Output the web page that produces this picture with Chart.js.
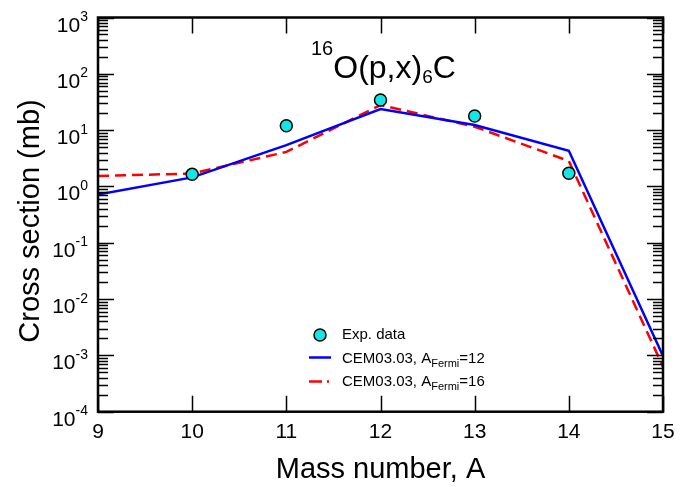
<!DOCTYPE html>
<html>
<head>
<meta charset="utf-8">
<script src="https://cdn.jsdelivr.net/npm/chart.js@4.4.1/dist/chart.umd.min.js"></script>
<style>
  html, body { margin: 0; padding: 0; background: #fff; }
  canvas { display: block; }
</style>
</head>
<body>
<canvas id="chart" width="696" height="487"></canvas>
<script>
// Mass numbers of the product nuclei
const massNumbers = [9, 10, 11, 12, 13, 14, 15];
// CEM03.03 calculations (mb)
const cemFermi12 = [0.72, 1.45, 5.4, 23.7, 12.3, 4.3, 0.98e-3];
const cemFermi16 = [1.53, 1.7, 4.1, 27.9, 11.5, 2.83, 6.3e-4];
// Measured cross sections (mb)
const expMass = [10, 11, 12, 13, 14];
const expValues = [1.64, 12.0, 34.3, 17.8, 1.71];
// Axis ticks
const xTicks = [9, 10, 11, 12, 13, 14, 15];
const yExponents = [-4, -3, -2, -1, 0, 1, 2, 3];

const FONT = '"Liberation Sans", Arial, Helvetica, sans-serif';

const toPoints = (xs, ys) => xs.map((x, i) => ({ x: x, y: ys[i] }));

// Draws the frame, inward ticks, labels, title and legend by hand
const framePlugin = {
    id: 'frame',
    afterDatasetsDraw(chart) {
        const ctx = chart.ctx;
        const { left, right, top, bottom } = chart.chartArea;
        const xs = chart.scales.x;
        const ys = chart.scales.y;

        ctx.save();
        ctx.strokeStyle = '#000';
        ctx.fillStyle = '#000';

        // tick marks
        ctx.lineWidth = 1.5;
        ctx.beginPath();
        xTicks.forEach(v => {
            const px = Math.round(xs.getPixelForValue(v)) + 0.5;
            ctx.moveTo(px, bottom); ctx.lineTo(px, bottom - 16);
            ctx.moveTo(px, top); ctx.lineTo(px, top + 16);
        });
        yExponents.forEach(e => {
            for (let m = 1; m < 10; m++) {
                if (e === 3 && m > 1) break;
                const py = Math.round(ys.getPixelForValue(m * Math.pow(10, e))) + 0.5;
                const len = m === 1 ? 16 : 10;
                ctx.moveTo(left, py); ctx.lineTo(left + len, py);
                ctx.moveTo(right, py); ctx.lineTo(right - len, py);
            }
        });
        ctx.stroke();

        // frame
        ctx.lineWidth = 2.5;
        ctx.strokeRect(left, top, right - left, bottom - top);

        // x tick labels
        ctx.font = '21px ' + FONT;
        ctx.textAlign = 'center';
        ctx.textBaseline = 'alphabetic';
        xTicks.forEach(v => {
            ctx.fillText(String(v), xs.getPixelForValue(v), bottom + 26);
        });

        // y tick labels as powers of ten
        yExponents.forEach(e => {
            const py = ys.getPixelForValue(Math.pow(10, e));
            const expText = e < 0 ? '-' + Math.abs(e) : String(e);
            ctx.font = '14px ' + FONT;
            ctx.textAlign = 'right';
            ctx.fillText(expText, 88, py + 3.5);
            const w = ctx.measureText(expText).width;
            ctx.font = '21px ' + FONT;
            ctx.fillText('10', 88 - w, py + 14);
        });

        // axis titles
        ctx.font = '29px ' + FONT;
        ctx.textAlign = 'center';
        ctx.fillText('Mass number, A', (left + right) / 2, 478);
        ctx.save();
        ctx.translate(39, 221);
        ctx.rotate(-Math.PI / 2);
        ctx.fillText('Cross section (mb)', 0, 0);
        ctx.restore();

        // reaction label
        ctx.textAlign = 'left';
        let tx = 311;
        const ty = 78;
        ctx.font = '20px ' + FONT;
        ctx.fillText('16', tx, ty - 23);
        tx += ctx.measureText('16').width;
        ctx.font = '32px ' + FONT;
        ctx.fillText('O(p,x)', tx, ty);
        tx += ctx.measureText('O(p,x)').width;
        ctx.font = '19px ' + FONT;
        ctx.fillText('6', tx, ty + 5);
        tx += ctx.measureText('6').width;
        ctx.font = '32px ' + FONT;
        ctx.fillText('C', tx, ty);

        // legend
        ctx.beginPath();
        ctx.arc(320, 335, 6, 0, Math.PI * 2);
        ctx.fillStyle = '#14e6e6';
        ctx.fill();
        ctx.lineWidth = 1.5;
        ctx.strokeStyle = '#000';
        ctx.stroke();

        ctx.lineWidth = 2.5;
        ctx.strokeStyle = '#0000ff';
        ctx.beginPath();
        ctx.moveTo(309, 357.5); ctx.lineTo(331, 357.5);
        ctx.stroke();

        ctx.strokeStyle = '#ff0000';
        ctx.setLineDash([13, 5, 2, 5]);
        ctx.beginPath();
        ctx.moveTo(309, 381.5); ctx.lineTo(331, 381.5);
        ctx.stroke();
        ctx.setLineDash([]);

        ctx.fillStyle = '#000';
        const drawEntry = (label, sub, tail, y) => {
            let x = 342;
            ctx.font = '15px ' + FONT;
            ctx.fillText(label, x, y);
            if (!sub) return;
            x += ctx.measureText(label).width;
            ctx.font = '11px ' + FONT;
            ctx.fillText(sub, x, y + 4);
            x += ctx.measureText(sub).width;
            ctx.font = '15px ' + FONT;
            ctx.fillText(tail, x, y);
        };
        drawEntry('Exp. data', null, null, 339);
        drawEntry('CEM03.03, A', 'Fermi', '=12', 362.5);
        drawEntry('CEM03.03, A', 'Fermi', '=16', 386);

        ctx.restore();
    }
};

new Chart(document.getElementById('chart'), {
    type: 'scatter',
    data: {
        datasets: [
            {
                label: 'Exp. data',
                data: toPoints(expMass, expValues),
                showLine: false,
                pointRadius: 6,
                pointBackgroundColor: '#14e6e6',
                pointBorderColor: '#000',
                pointBorderWidth: 1.5,
                order: 0
            },
            {
                label: 'CEM03.03, AFermi=12',
                data: toPoints(massNumbers, cemFermi12),
                showLine: true,
                borderColor: '#0000ff',
                borderWidth: 2.5,
                pointRadius: 0,
                tension: 0,
                order: 1
            },
            {
                label: 'CEM03.03, AFermi=16',
                data: toPoints(massNumbers, cemFermi16),
                showLine: true,
                borderColor: '#ff0000',
                borderWidth: 2.5,
                borderDash: [11, 6],
                pointRadius: 0,
                tension: 0,
                order: 2
            }
        ]
    },
    options: {
        responsive: false,
        animation: false,
        events: [],
        layout: { padding: { left: 98, top: 17.5, right: 33, bottom: 75.3 } },
        plugins: {
            legend: { display: false },
            tooltip: { enabled: false }
        },
        scales: {
            x: { type: 'linear', display: false, min: 9, max: 15 },
            y: { type: 'logarithmic', display: false, min: 1e-4, max: 1e3 }
        }
    },
    plugins: [framePlugin]
});
</script>
</body>
</html>
